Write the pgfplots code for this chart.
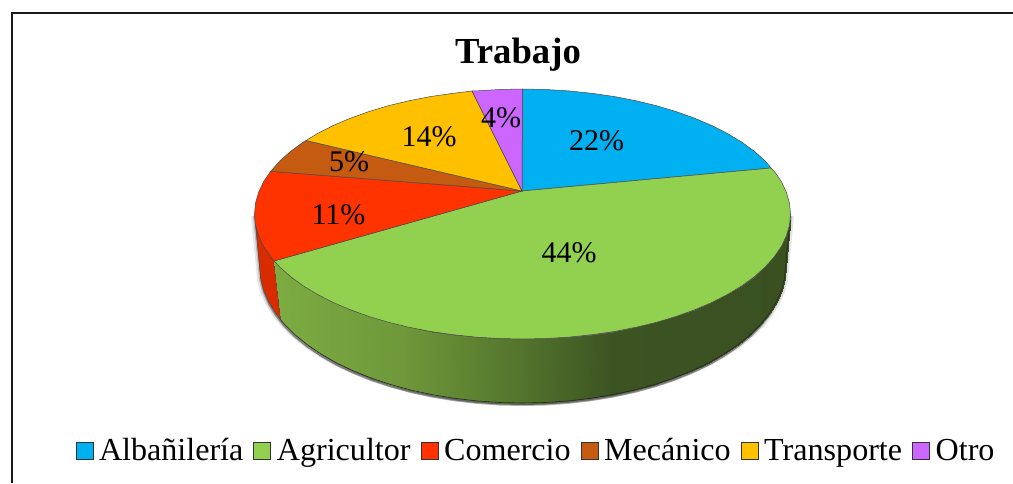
\documentclass[border=0pt]{standalone}
\usepackage{fontspec}
\setmainfont{Liberation Serif}
\usepackage{pgfplots}
\usepackage{pgfplotstable}
\pgfplotsset{compat=1.18}
\usepgfplotslibrary{patchplots}
\definecolor{cA}{HTML}{00B0F0}
\definecolor{cB}{HTML}{92D050}
\definecolor{cC}{HTML}{FF3300}
\definecolor{cD}{HTML}{C55A11}
\definecolor{cE}{HTML}{FFC000}
\definecolor{cF}{HTML}{CC66FF}
\definecolor{edge}{HTML}{4A4A4A}
\pgfplotstableread{
x y
254.5 214
255.5 224.9
259.5 266
260.5 277.9
263.5 289.8
268.5 301.5
275.4 312.9
284.1 323.9
294.7 334.5
307.1 344.6
321 354
336.5 362.9
353.5 370.9
371.6 378.2
391 384.6
411.4 390.2
432.6 394.7
454.4 398.3
476.8 400.9
499.6 402.5
522.5 403
545.4 402.5
568.2 400.9
590.6 398.3
612.4 394.7
633.6 390.2
654 384.6
673.4 378.2
691.5 370.9
708.5 362.9
724 354
737.9 344.6
750.3 334.5
760.9 323.9
769.6 312.9
776.5 301.5
781.5 289.8
784.5 277.9
785.5 266
789.5 224.9
790.5 214
}\silhouette
\begin{document}
\begin{tikzpicture}
\begin{axis}[
  width=1013pt,height=483pt,scale only axis,
  xmin=0,xmax=1013,ymin=0,ymax=483,y dir=reverse,
  axis lines=none,
  point meta min=274,point meta max=791,
  colormap={wall}{rgb255(0)=(125,172,66) rgb255(130)=(110,152,58) rgb255(250)=(82,115,44) rgb255(340)=(60,83,34) rgb255(517)=(58,80,33)},
  legend columns=6,
  legend cell align=left,
  legend style={at={(axis cs:535,450.5)},anchor=center,draw=none,fill=none,inner sep=0pt,outer sep=0pt,
    font=\fontsize{32.1}{36}\selectfont,
    /tikz/every even column/.append style={column sep=10pt},
    /tikz/every odd column/.append style={column sep=5.5pt},
    nodes={inner xsep=0pt,inner ysep=1pt}},
  legend image code/.code={\draw[#1,line width=1pt,draw=black!80] (0pt,-8.5pt) rectangle (17pt,8pt);},
]
% page extent
\path (axis cs:0,0) (axis cs:1013,483);
% soft shadow
\addplot[fill=black,fill opacity=.10,draw=none,xshift=-3.5pt,yshift=-2pt,forget plot] table {\silhouette} --cycle;
\addplot[fill=black,fill opacity=.10,draw=none,xshift=3.5pt,yshift=-2pt,forget plot] table {\silhouette} --cycle;
\addplot[fill=black,fill opacity=.18,draw=none,xshift=-1.5pt,yshift=-2pt,forget plot] table {\silhouette} --cycle;
\addplot[fill=black,fill opacity=.18,draw=none,xshift=1.5pt,yshift=-2pt,forget plot] table {\silhouette} --cycle;
\addplot[fill=black,fill opacity=.30,draw=none,yshift=-3pt,forget plot] table {\silhouette} --cycle;
% red wall
\addplot[fill=cC!85!black,draw=edge,line width=.5pt,forget plot] coordinates {(254.5,214)(255.5,224.9)(258.6,235.7)(263.6,246.4)(270.7,256.7)(274,261)(280.5,319.5)(275.4,312.9)(268.5,301.5)(263.5,289.8)(260.5,277.9)(259.5,266)} --cycle;
% green wall
\addplot[patch,patch type=rectangle,shader=interp,point meta=x,forget plot] coordinates {
(274,261)(280.5,319.5)(284.1,323.9)(279.6,266.8)
(279.6,266.8)(284.1,323.9)(294.7,334.5)(290.4,276.5)
(290.4,276.5)(294.7,334.5)(307.1,344.6)(303,285.7)
(303,285.7)(307.1,344.6)(321,354)(317.2,294.3)
(317.2,294.3)(321,354)(336.5,362.9)(333,302.4)
(333,302.4)(336.5,362.9)(353.5,370.9)(350.2,309.7)
(350.2,309.7)(353.5,370.9)(371.6,378.2)(368.8,316.4)
(368.8,316.4)(371.6,378.2)(391,384.6)(388.5,322.3)
(388.5,322.3)(391,384.6)(411.4,390.2)(409.2,327.3)
(409.2,327.3)(411.4,390.2)(432.6,394.7)(430.8,331.5)
(430.8,331.5)(432.6,394.7)(454.4,398.3)(453.1,334.7)
(453.1,334.7)(454.4,398.3)(476.8,400.9)(476,337.1)
(476,337.1)(476.8,400.9)(499.6,402.5)(499.1,338.5)
(499.1,338.5)(499.6,402.5)(522.5,403)(522.5,339)
(522.5,339)(522.5,403)(545.4,402.5)(545.9,338.5)
(545.9,338.5)(545.4,402.5)(568.2,400.9)(569,337.1)
(569,337.1)(568.2,400.9)(590.6,398.3)(591.9,334.7)
(591.9,334.7)(590.6,398.3)(612.4,394.7)(614.2,331.5)
(614.2,331.5)(612.4,394.7)(633.6,390.2)(635.8,327.3)
(635.8,327.3)(633.6,390.2)(654,384.6)(656.5,322.3)
(656.5,322.3)(654,384.6)(673.4,378.2)(676.2,316.4)
(676.2,316.4)(673.4,378.2)(691.5,370.9)(694.8,309.7)
(694.8,309.7)(691.5,370.9)(708.5,362.9)(712,302.4)
(712,302.4)(708.5,362.9)(724,354)(727.8,294.3)
(727.8,294.3)(724,354)(737.9,344.6)(742,285.7)
(742,285.7)(737.9,344.6)(750.3,334.5)(754.6,276.5)
(754.6,276.5)(750.3,334.5)(760.9,323.9)(765.4,266.8)
(765.4,266.8)(760.9,323.9)(769.6,312.9)(774.3,256.7)
(774.3,256.7)(769.6,312.9)(776.5,301.5)(781.4,246.4)
(781.4,246.4)(776.5,301.5)(781.5,289.8)(786.4,235.7)
(786.4,235.7)(781.5,289.8)(784.5,277.9)(789.5,224.9)
(789.5,224.9)(784.5,277.9)(785.5,266)(790.5,214)
};
\addplot[draw=black!85,line width=.6pt,forget plot] coordinates {(280.5,319.5)(284.1,323.9)(294.7,334.5)(307.1,344.6)(321,354)(336.5,362.9)(353.5,370.9)(371.6,378.2)(391,384.6)(411.4,390.2)(432.6,394.7)(454.4,398.3)(476.8,400.9)(499.6,402.5)(522.5,403)(545.4,402.5)(568.2,400.9)(590.6,398.3)(612.4,394.7)(633.6,390.2)(654,384.6)(673.4,378.2)(691.5,370.9)(708.5,362.9)(724,354)(737.9,344.6)(750.3,334.5)(760.9,323.9)(769.6,312.9)(776.5,301.5)(781.5,289.8)(784.5,277.9)(785.5,266)(789.5,224.9)(790.5,214)};
% top face
\addplot[fill=cA,draw=edge,line width=.5pt] coordinates {(522,191)(522.5,89)(545.9,89.5)(569,90.9)(591.9,93.3)(614.2,96.5)(635.8,100.7)(656.5,105.7)(676.2,111.6)(694.8,118.3)(712,125.6)(727.8,133.7)(742,142.3)(754.6,151.5)(765.4,161.2)(771,168)} --cycle;
\addlegendentry{Albañilería}
\addplot[fill=cB,draw=edge,line width=.5pt] coordinates {(522,191)(771,168)(774.3,171.3)(781.4,181.6)(786.4,192.3)(789.5,203.1)(790.5,214)(789.5,224.9)(786.4,235.7)(781.4,246.4)(774.3,256.7)(765.4,266.8)(754.6,276.5)(742,285.7)(727.8,294.3)(712,302.4)(694.8,309.7)(676.2,316.4)(656.5,322.3)(635.8,327.3)(614.2,331.5)(591.9,334.7)(569,337.1)(545.9,338.5)(522.5,339)(499.1,338.5)(476,337.1)(453.1,334.7)(430.8,331.5)(409.2,327.3)(388.5,322.3)(368.8,316.4)(350.2,309.7)(333,302.4)(317.2,294.3)(303,285.7)(290.4,276.5)(279.6,266.8)(274,261)} --cycle;
\addlegendentry{Agricultor}
\addplot[fill=cC,draw=edge,line width=.5pt] coordinates {(522,191)(274,261)(270.7,256.7)(263.6,246.4)(258.6,235.7)(255.5,224.9)(254.5,214)(255.5,203.1)(258.6,192.3)(263.6,181.6)(270.7,171.3)} --cycle;
\addlegendentry{Comercio}
\addplot[fill=cD,draw=edge,line width=.5pt] coordinates {(522,191)(270.7,171.3)(279.6,161.2)(290.4,151.5)(303,142.3)(306,140.5)} --cycle;
\addlegendentry{Mecánico}
\addplot[fill=cE,draw=edge,line width=.5pt] coordinates {(522,191)(306,140.5)(317.2,133.7)(333,125.6)(350.2,118.3)(368.8,111.6)(388.5,105.7)(409.2,100.7)(430.8,96.5)(453.1,93.3)(472,91)} --cycle;
\addlegendentry{Transporte}
\addplot[fill=cF,draw=edge,line width=.5pt] coordinates {(522,191)(472,91)(476,90.9)(499.1,89.5)(522.5,89)} --cycle;
\addlegendentry{Otro}
% labels
\node[anchor=base,font=\fontsize{30}{34}\selectfont] at (axis cs:596.5,150) {22\%};
\node[anchor=base,font=\fontsize{30}{34}\selectfont] at (axis cs:569,262) {44\%};
\node[anchor=base,font=\fontsize{30}{34}\selectfont] at (axis cs:338.5,224) {11\%};
\node[anchor=base,font=\fontsize{30}{34}\selectfont] at (axis cs:349,171) {5\%};
\node[anchor=base,font=\fontsize{30}{34}\selectfont] at (axis cs:429,146) {14\%};
\node[anchor=base,font=\fontsize{30}{34}\selectfont] at (axis cs:501,127.5) {4\%};
\node[anchor=base,font=\bfseries\fontsize{36.7}{40}\selectfont] at (axis cs:518,63.5) {Trabajo};
% frame
\draw[line width=2pt,draw=black!90] (axis cs:11.5,483) -- (axis cs:11.5,12.5) -- (axis cs:1013,12.5);
\end{axis}
\end{tikzpicture}
\end{document}
